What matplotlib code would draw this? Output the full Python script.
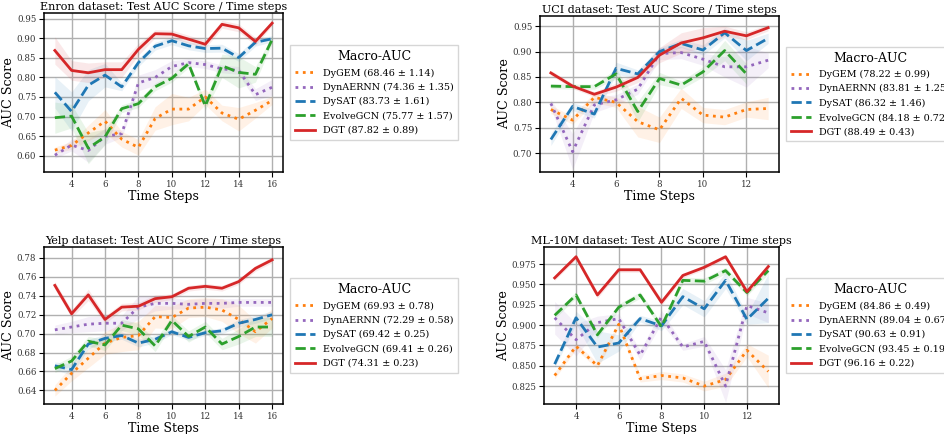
import numpy as np
import matplotlib
matplotlib.use("Agg")
import matplotlib.pyplot as plt
from matplotlib.ticker import MultipleLocator, FormatStrFormatter

plt.rcParams['font.family'] = 'DejaVu Serif'

methods = ["DyGEM", "DynAERNN", "DySAT", "EvolveGCN", "DGT"]
colors = ["tab:orange", "tab:purple", "tab:blue", "tab:green", "tab:red"]
styles = [":", ":", "--", "--", "-"]

# Enron
enron_steps = list(range(3, 17))
enron_mean = {
    "DyGEM":     [0.614, 0.626, 0.658, 0.688, 0.642, 0.621, 0.695, 0.719, 0.719, 0.750, 0.709, 0.693, 0.716, 0.741],
    "DynAERNN":  [0.601, 0.627, 0.613, 0.649, 0.656, 0.786, 0.800, 0.828, 0.838, 0.833, 0.822, 0.818, 0.756, 0.775],
    "DySAT":     [0.762, 0.713, 0.780, 0.806, 0.776, 0.838, 0.880, 0.894, 0.881, 0.874, 0.875, 0.851, 0.890, 0.899],
    "EvolveGCN": [0.697, 0.701, 0.619, 0.648, 0.720, 0.733, 0.776, 0.798, 0.835, 0.727, 0.830, 0.813, 0.808, 0.897],
    "DGT":       [0.869, 0.818, 0.812, 0.820, 0.820, 0.872, 0.912, 0.911, 0.898, 0.885, 0.936, 0.927, 0.892, 0.939],
}
enron_std = {
    "DyGEM":     [0.008, 0.010, 0.020, 0.030, 0.020, 0.020, 0.030, 0.040, 0.030, 0.020, 0.020, 0.030, 0.020, 0.010],
    "DynAERNN":  [0.008, 0.015, 0.030, 0.020, 0.010, 0.020, 0.020, 0.015, 0.010, 0.010, 0.010, 0.010, 0.015, 0.020],
    "DySAT":     [0.040, 0.050, 0.040, 0.030, 0.010, 0.010, 0.010, 0.010, 0.010, 0.010, 0.010, 0.010, 0.010, 0.008],
    "EvolveGCN": [0.040, 0.030, 0.040, 0.020, 0.010, 0.010, 0.010, 0.010, 0.010, 0.010, 0.030, 0.040, 0.020, 0.010],
    "DGT":       [0.035, 0.025, 0.025, 0.020, 0.020, 0.015, 0.010, 0.010, 0.010, 0.010, 0.010, 0.010, 0.010, 0.006],
}
enron_labels = ["68.46 ± 1.14", "74.36 ± 1.35", "83.73 ± 1.61", "75.77 ± 1.57", "87.82 ± 0.89"]

# UCI
uci_steps = list(range(3, 14))
uci_mean = {
    "DyGEM":     [0.786, 0.765, 0.810, 0.800, 0.762, 0.746, 0.808, 0.775, 0.771, 0.786, 0.788],
    "DynAERNN":  [0.798, 0.703, 0.795, 0.805, 0.826, 0.896, 0.898, 0.885, 0.870, 0.870, 0.883],
    "DySAT":     [0.727, 0.792, 0.777, 0.867, 0.856, 0.900, 0.916, 0.903, 0.937, 0.902, 0.926],
    "EvolveGCN": [0.832, 0.831, 0.831, 0.856, 0.782, 0.847, 0.834, 0.860, 0.902, 0.856],
    "DGT":       [0.858, 0.832, 0.816, 0.830, 0.849, 0.893, 0.917, 0.927, 0.940, 0.931, 0.947],
}
uci_std = {
    "DyGEM":     [0.008, 0.008, 0.010, 0.010, 0.030, 0.025, 0.020, 0.015, 0.015, 0.015, 0.022],
    "DynAERNN":  [0.008, 0.035, 0.015, 0.010, 0.010, 0.012, 0.012, 0.012, 0.020, 0.040, 0.015],
    "DySAT":     [0.012, 0.008, 0.008, 0.012, 0.008, 0.008, 0.008, 0.010, 0.010, 0.020, 0.010],
    "EvolveGCN": [0.005, 0.005, 0.005, 0.010, 0.020, 0.012, 0.008, 0.010, 0.020, 0.020],
    "DGT":       [0.005, 0.005, 0.005, 0.008, 0.010, 0.015, 0.020, 0.020, 0.010, 0.008, 0.006],
}
uci_labels = ["78.22 ± 0.99", "83.81 ± 1.25", "86.32 ± 1.46", "84.18 ± 0.72", "88.49 ± 0.43"]

# Yelp
yelp_steps = list(range(3, 17))
yelp_mean = {
    "DyGEM":     [0.640, 0.658, 0.674, 0.690, 0.696, 0.698, 0.718, 0.717, 0.727, 0.728, 0.725, 0.715, 0.702, 0.716],
    "DynAERNN":  [0.704, 0.707, 0.710, 0.711, 0.711, 0.728, 0.732, 0.732, 0.731, 0.732, 0.732, 0.733, 0.733, 0.733],
    "DySAT":     [0.666, 0.662, 0.689, 0.695, 0.698, 0.690, 0.694, 0.702, 0.696, 0.701, 0.703, 0.711, 0.715, 0.720],
    "EvolveGCN": [0.663, 0.671, 0.692, 0.688, 0.709, 0.705, 0.687, 0.714, 0.697, 0.707, 0.689, 0.697, 0.707, 0.707],
    "DGT":       [0.751, 0.721, 0.741, 0.715, 0.728, 0.729, 0.737, 0.739, 0.748, 0.750, 0.748, 0.755, 0.769, 0.778],
}
yelp_std = {
    "DyGEM":     [0.006, 0.008, 0.010, 0.012, 0.015, 0.015, 0.012, 0.012, 0.010, 0.010, 0.012, 0.015, 0.012, 0.010],
    "DynAERNN":  [0.005, 0.006, 0.008, 0.008, 0.008, 0.012, 0.008, 0.006, 0.005, 0.005, 0.005, 0.004, 0.004, 0.004],
    "DySAT":     [0.004, 0.006, 0.005, 0.004, 0.004, 0.004, 0.004, 0.003, 0.003, 0.003, 0.003, 0.004, 0.004, 0.004],
    "EvolveGCN": [0.004, 0.005, 0.005, 0.006, 0.006, 0.006, 0.006, 0.005, 0.006, 0.006, 0.006, 0.008, 0.010, 0.010],
    "DGT":       [0.004, 0.004, 0.006, 0.004, 0.004, 0.004, 0.004, 0.003, 0.003, 0.003, 0.003, 0.003, 0.003, 0.003],
}
yelp_labels = ["69.93 ± 0.78", "72.29 ± 0.58", "69.42 ± 0.25", "69.41 ± 0.26", "74.31 ± 0.23"]

# ML-10M
ml_steps = list(range(3, 14))
ml_mean = {
    "DyGEM":     [0.838, 0.874, 0.850, 0.901, 0.834, 0.838, 0.835, 0.825, 0.833, 0.869, 0.843],
    "DynAERNN":  [0.909, 0.882, 0.903, 0.908, 0.863, 0.910, 0.873, 0.880, 0.825, 0.924, 0.915],
    "DySAT":     [0.852, 0.909, 0.873, 0.878, 0.908, 0.899, 0.935, 0.920, 0.955, 0.907, 0.933],
    "EvolveGCN": [0.912, 0.937, 0.888, 0.922, 0.937, 0.898, 0.955, 0.954, 0.967, 0.940, 0.967],
    "DGT":       [0.958, 0.984, 0.937, 0.968, 0.968, 0.928, 0.961, 0.971, 0.984, 0.941, 0.972],
}
ml_std = {
    "DyGEM":     [0.004, 0.004, 0.004, 0.004, 0.004, 0.005, 0.005, 0.006, 0.008, 0.008, 0.020],
    "DynAERNN":  [0.020, 0.020, 0.008, 0.006, 0.006, 0.008, 0.004, 0.006, 0.020, 0.010, 0.012],
    "DySAT":     [0.004, 0.008, 0.020, 0.010, 0.004, 0.006, 0.010, 0.010, 0.010, 0.006, 0.030],
    "EvolveGCN": [0.004, 0.004, 0.004, 0.004, 0.004, 0.004, 0.004, 0.004, 0.004, 0.004, 0.004],
    "DGT":       [0.003, 0.003, 0.004, 0.003, 0.003, 0.004, 0.003, 0.003, 0.003, 0.004, 0.003],
}
ml_labels = ["84.86 ± 0.49", "89.04 ± 0.67", "90.63 ± 0.91", "93.45 ± 0.19", "96.16 ± 0.22"]

panels = [
    ("Enron", enron_steps, enron_mean, enron_std, enron_labels,
     [44, 283, 13, 172], (0.558, 0.965), 0.05, "%.2f"),
    ("UCI", uci_steps, uci_mean, uci_std, uci_labels,
     [540, 779, 16, 172], (0.663, 0.970), 0.05, "%.2f"),
    ("Yelp", yelp_steps, yelp_mean, yelp_std, yelp_labels,
     [44, 283, 247, 404], (0.6256, 0.7916), 0.02, "%.2f"),
    ("ML-10M", ml_steps, ml_mean, ml_std, ml_labels,
     [544, 779, 247, 404], (0.803, 0.996), 0.025, "%.3f"),
]

W, H = 945, 434
fig = plt.figure(figsize=(W / 100, H / 100), dpi=100)

for name, steps, mean, std, labels, (l, r, t, b), ylim, ystep, yfmt in panels:
    ax = fig.add_axes([l / W, 1 - b / H, (r - l) / W, (b - t) / H])
    for m, c, ls, lab in zip(methods, colors, styles, labels):
        y = np.array(mean[m])
        s = np.array(std[m])
        x = np.array(steps[:len(y)])
        ax.plot(x, y, ls, color=c, lw=2, label=f"{m} ({lab})")
        ax.fill_between(x, y - s, y + s, color=c, alpha=0.1, lw=0)
    ax.set_xlim(steps[0] - 0.05 * (steps[-1] - steps[0]), steps[-1] + 0.05 * (steps[-1] - steps[0]))
    ax.set_ylim(*ylim)
    ax.xaxis.set_major_locator(MultipleLocator(2))
    ax.yaxis.set_major_locator(MultipleLocator(ystep))
    ax.yaxis.set_major_formatter(FormatStrFormatter(yfmt))
    ax.grid(True, color="#b0b0b0", lw=1)
    ax.set_axisbelow(True)
    for sp in ax.spines.values():
        sp.set_linewidth(1.1)
    ax.set_title(f"{name} dataset: Test AUC Score / Time steps", fontsize=8, pad=2)
    ax.set_xlabel("Time Steps", fontsize=9, labelpad=1)
    ax.set_ylabel("AUC Score", fontsize=9.2, labelpad=1)
    ax.tick_params(labelsize=6.2, length=3.5, pad=2, labelcolor="#333333")
    leg = ax.legend(title="Macro-AUC", loc="center left", bbox_to_anchor=(1.01, 0.5),
                    fontsize=6.9, title_fontsize=9, fancybox=False, borderpad=0.5,
                    labelspacing=0.55, handlelength=2.1)
    leg.get_frame().set_edgecolor("#cccccc")

fig.savefig("out.png", dpi=100)
